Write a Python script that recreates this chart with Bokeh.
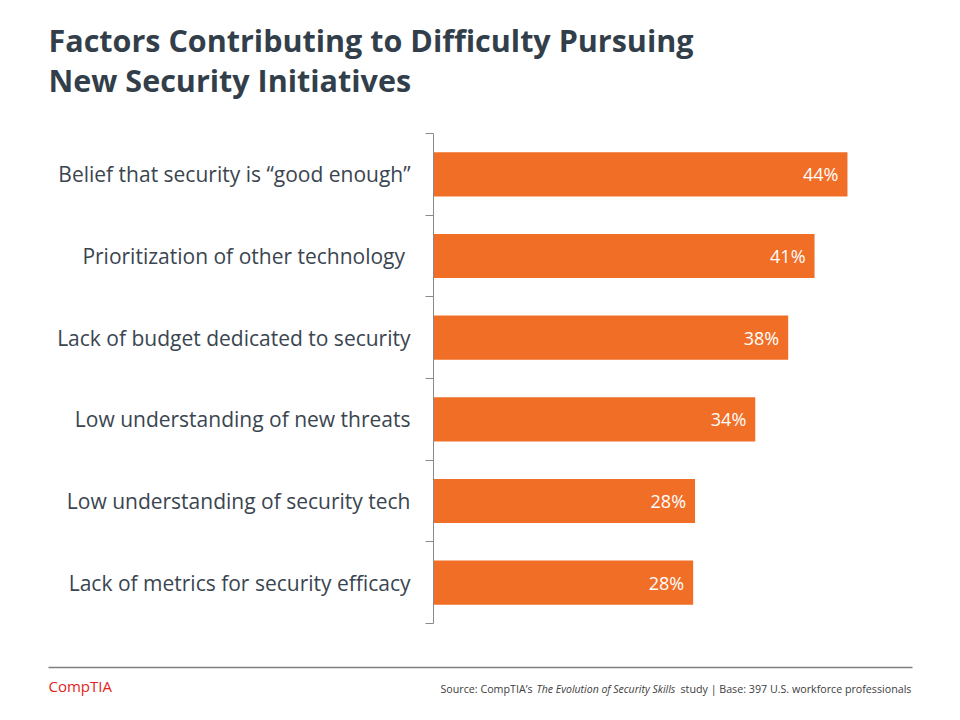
from bokeh.plotting import figure
from bokeh.layouts import column
from bokeh.models import ColumnDataSource, FixedTicker, Range1d, LabelSet
from bokeh.core.properties import value
from bokeh.embed import file_html
from bokeh.resources import INLINE

# ---- data ----
categories = [
    "Belief that security is \u201cgood enough\u201d",
    "Prioritization of other technology ",
    "Lack of budget dedicated to security",
    "Low understanding of new threats",
    "Low understanding of security tech",
    "Lack of metrics for security efficacy",
]
values = [44.0, 40.5, 37.7, 34.2, 27.8, 27.6]
value_labels = ["44%", "41%", "38%", "34%", "28%", "28%"]

title_lines = ["Factors Contributing to Difficulty Pursuing", "New Security Initiatives"]
source_parts = ["Source: CompTIA\u2019s ", "The Evolution of Security Skills", " study | Base: 397 U.S. workforce professionals"]
logo_text = "CompTIA"

ORANGE = "#F16E26"
DARK = "#323F4B"
LABEL = "#3A4550"
GRAY = "#8A8A8A"
FONT = value("Open Sans")

W = 944
HEAD_H, MAIN_H, FOOT_H = 125, 525, 54


def blank(h):
    f = figure(width=W, height=h, output_backend="svg", toolbar_location=None,
               x_range=Range1d(0, W), y_range=Range1d(h, 0),
               x_axis_type=None, y_axis_type=None, frame_align=False,
               min_border_left=0, min_border_right=0, min_border_top=0, min_border_bottom=0)
    f.outline_line_color = None
    f.grid.visible = False
    return f


# ---- title ----
head = blank(HEAD_H)
head.text(x=[48, 48], y=[39, 79], text=title_lines, text_font=FONT, text_font_style="bold",
          text_font_size="30.5px", text_color=DARK, text_baseline="alphabetic", text_align="left")

# ---- main chart ----
n = len(categories)
ypos = [n - i - 0.5 for i in range(n)]
src = ColumnDataSource(dict(y=ypos, v=values, lab=value_labels, cat=categories))

p = figure(width=W, height=MAIN_H, output_backend="svg", toolbar_location=None,
           x_range=Range1d(0, 50.7), y_range=Range1d(0, n), frame_align=False,
           min_border_left=433, min_border_right=34, min_border_top=8, min_border_bottom=27)
p.outline_line_color = None
p.xgrid.visible = False
p.ygrid.visible = False
p.xaxis.visible = False

p.hbar(y="y", right="v", left=0, height=0.54, source=src, fill_color=ORANGE, line_color=None)

p.add_layout(LabelSet(x="v", y="y", text="lab", source=src, x_offset=-9, text_align="right",
                      text_baseline="middle", text_color="white", text_font=FONT,
                      text_font_size="18px"))

ya = p.yaxis[0]
ya.ticker = FixedTicker(ticks=ypos, minor_ticks=list(range(n + 1)))
ya.major_label_overrides = {y: c for y, c in zip(ypos, categories)}
ya.major_tick_line_color = None
ya.major_tick_out = 8
ya.major_tick_in = 0
ya.minor_tick_out = 8
ya.minor_tick_in = 0
ya.minor_tick_line_color = GRAY
ya.axis_line_color = GRAY
ya.major_label_standoff = 15
ya.major_label_text_font = "Open Sans"
ya.major_label_text_font_size = "21px"
ya.major_label_text_color = LABEL

# ---- footer ----
foot = blank(FOOT_H)
foot.segment(x0=[48], y0=[17], x1=[912], y1=[17], line_color="#7F7F7F", line_width=1.5)
foot.text(x=[48], y=[35], text=[logo_text], text_font=FONT, text_font_size="15px",
          text_color="#E2231A", text_baseline="middle", text_align="left")
left_edges = [440, 536, 680]
sizes = ["10.7px", "10.5px", "10.7px"]
for xl, t, st, fs in zip(left_edges, source_parts, ["normal", "italic", "normal"], sizes):
    foot.text(x=[xl], y=[38], text=[t.strip()], text_font=FONT, text_font_size=fs, text_font_style=st,
              text_color="#404040", text_baseline="middle", text_align="left")

layout = column(head, p, foot, spacing=0)
open("out.html", "w").write(file_html(layout, INLINE))
